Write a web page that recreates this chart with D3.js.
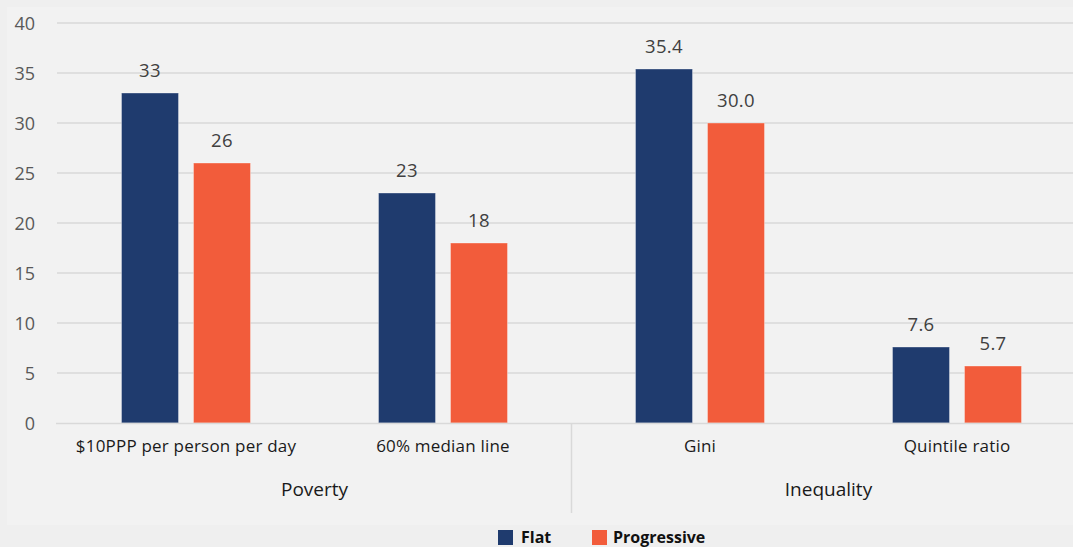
<!DOCTYPE html>
<html>
<head>
<meta charset="utf-8">
<script src="https://cdn.jsdelivr.net/npm/d3@7"></script>
<style>
  html, body { margin: 0; padding: 0; background: #efefef; }
  svg { display: block; font-family: "Open Sans", "Noto Sans", sans-serif; }
</style>
</head>
<body>
<svg id="chart" width="1073" height="547"></svg>
<script>
// Poverty and inequality outcomes under flat vs progressive schemes
const categories = ["$10PPP per person per day", "60% median line", "Gini", "Quintile ratio"];
const groups = ["Poverty", "Poverty", "Inequality", "Inequality"];
const series = ["Flat", "Progressive"];
const flatValues = [33, 23, 35.4, 7.6];
const progressiveValues = [26, 18, 30.0, 5.7];
const labelDecimals = [0, 0, 1, 1];
const yTicks = [0, 5, 10, 15, 20, 25, 30, 35, 40];
const colors = ["#1f3b6e", "#f25c3b"];

const W = 1073, H = 547;
const svg = d3.select("#chart");

// panel backdrop
svg.append("rect").attr("x", 0).attr("y", 0).attr("width", W).attr("height", H).attr("fill", "#efefef");
svg.append("rect").attr("x", 7).attr("y", 7).attr("width", W - 7).attr("height", 518).attr("fill", "#f2f2f2");

const plotLeft = 57.5, plotRight = 57.5 + 4 * 257, plotTop = 23, plotBottom = 423;

const x0 = d3.scaleBand().domain(categories).range([plotLeft, plotRight]).paddingInner(0).paddingOuter(0);
const bw = x0.bandwidth();
const x1 = d3.scaleBand().domain(series).range([(bw - 129) / 2, (bw + 129) / 2]).paddingInner(15 / 72).paddingOuter(0);
const y = d3.scaleLinear().domain([0, 40]).range([plotBottom, plotTop]);

// gridlines
svg.append("g")
  .selectAll("line")
  .data(yTicks.filter(t => t > 0))
  .join("line")
  .attr("x1", 57).attr("x2", W)
  .attr("y1", d => y(d)).attr("y2", d => y(d))
  .attr("stroke", "#d9d9d9").attr("stroke-width", 1.5);

// y axis labels
const yAxis = d3.axisLeft(y).tickValues(yTicks).tickSize(0).tickPadding(0);
const yg = svg.append("g").attr("transform", "translate(35,0)").call(yAxis);
yg.select(".domain").remove();
yg.selectAll("text")
  .attr("fill", "#595959")
  .style("font-size", "18px")
  .style("font-family", "'Open Sans', sans-serif")
  .attr("dy", "0.35em");

// bars
const rows = categories.map((c, i) => ({
  cat: c,
  vals: [
    { s: series[0], v: flatValues[i], d: labelDecimals[i] },
    { s: series[1], v: progressiveValues[i], d: labelDecimals[i] }
  ]
}));

const gCat = svg.append("g").selectAll("g")
  .data(rows)
  .join("g")
  .attr("transform", d => `translate(${x0(d.cat)},0)`);

gCat.selectAll("rect")
  .data(d => d.vals)
  .join("rect")
  .attr("x", d => x1(d.s))
  .attr("width", x1.bandwidth())
  .attr("y", d => y(d.v))
  .attr("height", d => y(0) - y(d.v))
  .attr("fill", (d, i) => colors[i])
  .attr("stroke", "rgba(255,255,255,0.35)")
  .attr("stroke-width", 1);

gCat.selectAll("text.val")
  .data(d => d.vals)
  .join("text")
  .attr("class", "val")
  .attr("x", d => x1(d.s) + x1.bandwidth() / 2)
  .attr("y", d => y(d.v) - 16)
  .attr("text-anchor", "middle")
  .attr("fill", "#404040")
  .style("font-size", "18.5px")
  .style("letter-spacing", "0.3px")
  .text(d => d.v.toFixed(d.d));

// baseline and separators
svg.append("line").attr("x1", 56).attr("x2", W).attr("y1", y(0) + 0.5).attr("y2", y(0) + 0.5)
  .attr("stroke", "#d9d9d9").attr("stroke-width", 1.5);
svg.append("line").attr("x1", 571.5).attr("x2", 571.5).attr("y1", y(0)).attr("y2", 513)
  .attr("stroke", "#d9d9d9").attr("stroke-width", 1.5);

// category labels
svg.append("g").selectAll("text")
  .data(categories)
  .join("text")
  .attr("x", d => x0(d) + bw / 2)
  .attr("y", 452)
  .attr("text-anchor", "middle")
  .attr("fill", "#1a1a1a")
  .style("font-size", "17px")
  .style("letter-spacing", "0.2px")
  .text(d => d);

// group labels
const groupNames = Array.from(new Set(groups));
svg.append("g").selectAll("text")
  .data(groupNames)
  .join("text")
  .attr("x", g => {
    const cats = categories.filter((c, i) => groups[i] === g);
    return (x0(cats[0]) + x0(cats[cats.length - 1]) + bw) / 2;
  })
  .attr("y", 496)
  .attr("text-anchor", "middle")
  .attr("fill", "#1a1a1a")
  .style("font-size", "19px")
  .text(g => g);

// legend
const legendX = [498, 592];
const lg = svg.append("g").selectAll("g")
  .data(series)
  .join("g")
  .attr("transform", (d, i) => `translate(${legendX[i]},530)`);
lg.append("rect").attr("width", 15).attr("height", 15).attr("fill", (d, i) => colors[i]);
lg.append("text")
  .attr("x", (d, i) => i === 0 ? 23 : 21)
  .attr("y", 13)
  .attr("fill", "#111")
  .style("font-size", "16px")
  .style("font-weight", "bold")
  .text(d => d);
</script>
</body>
</html>
